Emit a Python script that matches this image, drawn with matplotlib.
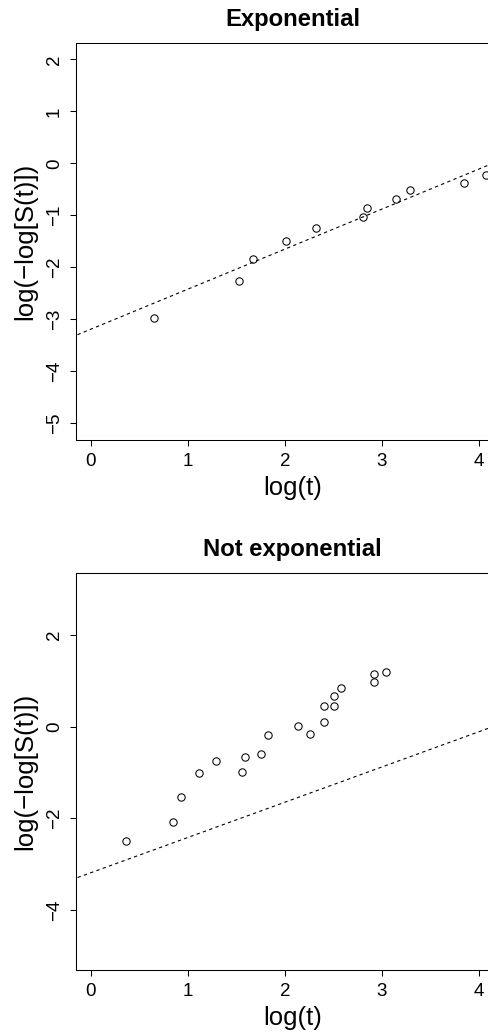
import numpy as np
import matplotlib
matplotlib.use("Agg")
import matplotlib.pyplot as plt

plt.rcParams['font.family'] = ['Liberation Sans', 'DejaVu Sans']

# top panel: data that follow the exponential line
exp_logt = [0.65, 1.53, 1.67, 2.01, 2.32, 2.81, 2.85, 3.15, 3.29, 3.85, 4.07]
exp_lls = [-2.98, -2.27, -1.83, -1.50, -1.25, -1.04, -0.85, -0.68, -0.52, -0.37, -0.22]

# bottom panel: data that do not
nexp_logt = [0.36, 0.85, 0.93, 1.12, 1.29, 1.56, 1.59, 1.75, 1.83, 2.14,
             2.26, 2.40, 2.40, 2.51, 2.51, 2.58, 2.92, 2.92, 3.04]
nexp_lls = [-2.50, -2.09, -1.54, -1.02, -0.76, -1.00, -0.67, -0.60, -0.19, 0.01,
            -0.17, 0.10, 0.45, 0.45, 0.66, 0.84, 0.98, 1.15, 1.19]

# reference line log(-log S(t)) = a + b*log(t)
line_a = -3.19
line_b = 0.77

titles = ["Exponential", "Not exponential"]
yticks_top = [-5, -4, -3, -2, -1, 0, 1, 2]
yticks_bot = [-4, -2, 0, 2]
xticks = [0, 1, 2, 3, 4]

fig = plt.figure(figsize=(4.89, 10.35), dpi=100)
ax1 = fig.add_axes([0.1548, 0.5749, 0.888, 0.3833])
ax2 = fig.add_axes([0.1548, 0.0625, 0.888, 0.3836])

panels = [
    (ax1, exp_logt, exp_lls, titles[0], yticks_top, (-5.32, 2.31)),
    (ax2, nexp_logt, nexp_lls, titles[1], yticks_bot, (-5.32, 3.35)),
]

for ax, xs, ys, title, yt, ylim in panels:
    ax.plot(xs, ys, 'o', mfc='none', mec='black', ms=5.3, mew=0.75)
    xl = np.array([-0.2, 4.4])
    ax.plot(xl, line_a + line_b * xl, color='black', lw=0.8, dashes=(3, 3))
    ax.set_xlim(-0.155, 4.32)
    ax.set_ylim(*ylim)
    ax.set_xticks(xticks)
    ax.set_yticks(yt)
    ax.set_xticklabels([str(v) for v in xticks])
    ax.set_yticklabels([str(v).replace('-', '\u2212') for v in yt],
                       rotation=90, va='center')
    ax.tick_params(length=4.3, width=0.75, labelsize=13.5, pad=5, direction='out')
    for s in ax.spines.values():
        s.set_linewidth(0.75)
    ax.set_title(title, fontsize=17.2, fontweight='bold', pad=12.5)
    ax.set_xlabel('log(t)', fontsize=18.5)
    ax.set_ylabel('log(\u2212log[S(t)])', fontsize=18.5)
    ax.xaxis.set_label_coords(0.5, -0.12)
    ax.yaxis.set_label_coords(-0.117, 0.5)
    ax.xaxis.label.set_va('center')
    ax.yaxis.label.set_va('center')

fig.savefig('out.png', dpi=100)
